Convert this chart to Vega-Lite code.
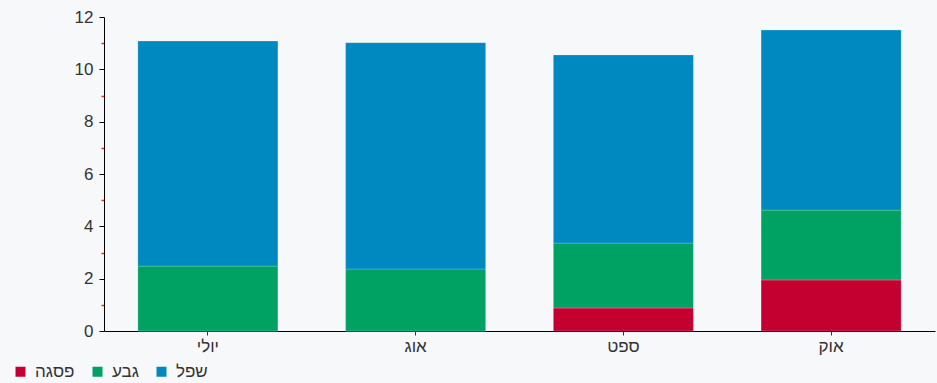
{
  "$schema": "https://vega.github.io/schema/vega-lite/v6.json",
  "autosize": {"type": "none"},
  "padding": {"left": 104, "top": 17, "right": 2, "bottom": 52},
  "width": 831,
  "height": 314,
  "background": "#f6f8fa",
  "config": {
    "view": {"stroke": null},
    "font": "Liberation Sans, DejaVu Sans"
  },
  "data": {
    "values": [
      {"month": "יולי", "series": "פסגה", "order": 1, "value": 0},
      {"month": "יולי", "series": "גבע", "order": 2, "value": 2.48},
      {"month": "יולי", "series": "שפל", "order": 3, "value": 8.6},
      {"month": "אוג", "series": "פסגה", "order": 1, "value": 0},
      {"month": "אוג", "series": "גבע", "order": 2, "value": 2.37},
      {"month": "אוג", "series": "שפל", "order": 3, "value": 8.65},
      {"month": "ספט", "series": "פסגה", "order": 1, "value": 0.88},
      {"month": "ספט", "series": "גבע", "order": 2, "value": 2.48},
      {"month": "ספט", "series": "שפל", "order": 3, "value": 7.19},
      {"month": "אוק", "series": "פסגה", "order": 1, "value": 1.95},
      {"month": "אוק", "series": "גבע", "order": 2, "value": 2.67},
      {"month": "אוק", "series": "שפל", "order": 3, "value": 6.88}
    ]
  },
  "mark": {"type": "bar", "stroke": "#ffffff", "strokeWidth": 0.5, "strokeOpacity": 0.4},
  "encoding": {
    "x": {
      "field": "month",
      "type": "nominal",
      "sort": ["יולי", "אוג", "ספט", "אוק"],
      "scale": {"paddingInner": 0.326, "paddingOuter": 0.163},
      "axis": {
        "title": null,
        "labelAngle": 0,
        "labelFontSize": 17,
        "labelColor": "#333333",
        "labelPadding": 3,
        "domainColor": "#000000",
        "domainWidth": 1,
        "tickColor": "#333333",
        "tickSize": 4
      }
    },
    "y": {
      "field": "value",
      "type": "quantitative",
      "aggregate": "sum",
      "stack": "zero",
      "scale": {"domain": [0, 12], "nice": false},
      "axis": {
        "title": null,
        "values": [0, 1, 2, 3, 4, 5, 6, 7, 8, 9, 10, 11, 12],
        "labelExpr": "datum.value % 2 ? '' : datum.label",
        "labelFontSize": 17,
        "labelColor": "#333333",
        "labelPadding": 6,
        "grid": false,
        "domainColor": "#000000",
        "tickColor": {"condition": {"test": "datum.value % 2 === 1", "value": "#ff2020"}, "value": "#000000"},
        "tickSize": {"condition": {"test": "datum.value % 2 === 1", "value": 3}, "value": 5},
        "tickWidth": {"condition": {"test": "datum.value % 2 === 1", "value": 1.5}, "value": 1}
      }
    },
    "color": {
      "field": "series",
      "type": "nominal",
      "scale": {
        "domain": ["פסגה", "גבע", "שפל"],
        "range": ["#c40030", "#00a264", "#0088c0"]
      },
      "legend": {
        "title": null,
        "orient": "none",
        "direction": "horizontal",
        "legendX": -92,
        "legendY": 346,
        "symbolType": "square",
        "symbolSize": 100,
        "symbolStrokeWidth": 0,
        "labelFontSize": 17,
        "labelColor": "#333333",
        "columnPadding": 14,
        "labelOffset": 6
      }
    },
    "order": {"field": "order", "type": "quantitative"}
  }
}
